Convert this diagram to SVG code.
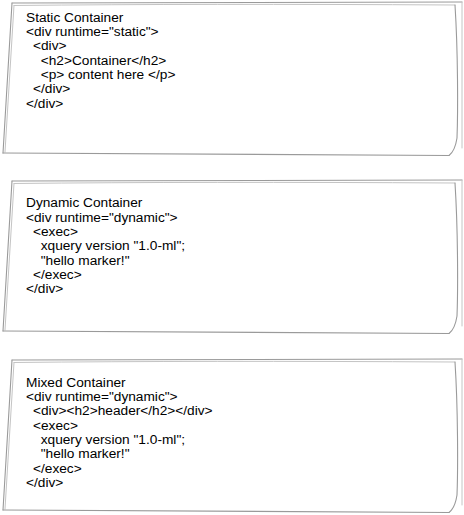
<svg xmlns="http://www.w3.org/2000/svg" width="464" height="515" viewBox="0 0 464 515">
<style>
.t{font-family:"Liberation Sans",Arial,Helvetica,sans-serif;font-size:13.7px;fill:#000}
.s{fill:none;stroke:#9a9a9a;stroke-width:1.1;stroke-linecap:round}
.s2{fill:none;stroke:#c4c4c4;stroke-width:1;stroke-linecap:round}
.bg{fill:#fff;stroke:none}
</style>
<defs>
<g id="frame">
<path class="bg" d="M12 1 L462 0 L462 153 L3 151 Z"/>
<path class="s" d="M12 1 L462 0"/>
<path class="s2" d="M14 3.5 Q200 1.5 455 3"/>
<path class="s" d="M12 1 L3 151"/>
<path class="s2" d="M14 3.5 L5 150"/>
<path class="s" d="M3 151 Q200 153 449 153.5"/>
<path class="s2" d="M462 0 L462 146"/>
<path class="s" d="M455 3 C458 50 458 110 457 136 Q455 149 449 153.5"/>
</g>
</defs>
<rect width="464" height="515" fill="#fff"/>
<g id="static-container">
<use href="#frame" transform="translate(0,2)"/>
<text class="t" x="26" y="21.7">Static Container</text>
<text class="t" x="26" y="36">&lt;div runtime="static"&gt;</text>
<text class="t" x="33" y="50.3">&lt;div&gt;</text>
<text class="t" x="40.7" y="64.7">&lt;h2&gt;Container&lt;/h2&gt;</text>
<text class="t" x="40.7" y="79">&lt;p&gt; content here &lt;/p&gt;</text>
<text class="t" x="33" y="93.3">&lt;/div&gt;</text>
<text class="t" x="26" y="107.7">&lt;/div&gt;</text>
</g>
<g id="dynamic-container">
<use href="#frame" transform="translate(0,180)"/>
<text class="t" x="26" y="207.3">Dynamic Container</text>
<text class="t" x="26" y="221.6">&lt;div runtime="dynamic"&gt;</text>
<text class="t" x="33" y="235.9">&lt;exec&gt;</text>
<text class="t" x="40.7" y="250.2">xquery version "1.0-ml";</text>
<text class="t" x="40.7" y="264.5">"hello marker!"</text>
<text class="t" x="33" y="278.8">&lt;/exec&gt;</text>
<text class="t" x="26" y="293.1">&lt;/div&gt;</text>
</g>
<g id="mixed-container">
<use href="#frame" transform="translate(0,359)"/>
<text class="t" x="26" y="386.7">Mixed Container</text>
<text class="t" x="26" y="401">&lt;div runtime="dynamic"&gt;</text>
<text class="t" x="33" y="415.3">&lt;div&gt;&lt;h2&gt;header&lt;/h2&gt;&lt;/div&gt;</text>
<text class="t" x="33" y="429.6">&lt;exec&gt;</text>
<text class="t" x="40.7" y="443.9">xquery version "1.0-ml";</text>
<text class="t" x="40.7" y="458.2">"hello marker!"</text>
<text class="t" x="33" y="472.5">&lt;/exec&gt;</text>
<text class="t" x="26" y="486.8">&lt;/div&gt;</text>
</g>
<g id="connectors"></g>
</svg>
